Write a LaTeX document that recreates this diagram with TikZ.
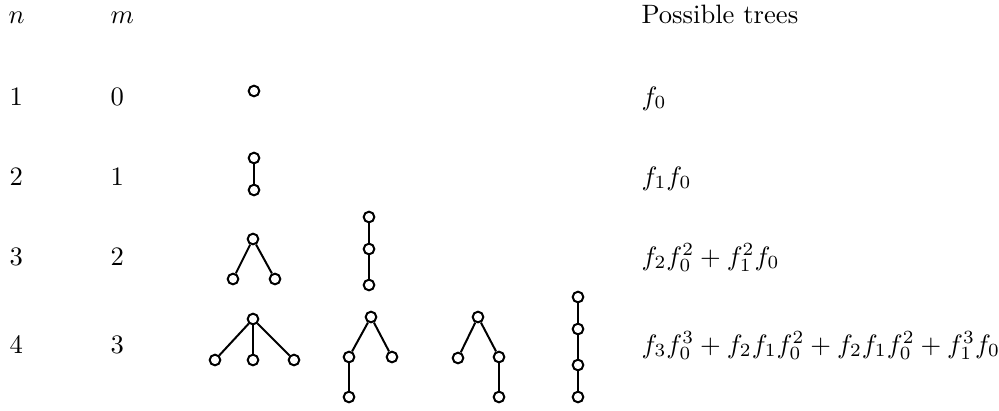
\documentclass[tikz,border=0pt]{standalone}
\usepackage{amsmath,amssymb}
\usepackage{tikz}
\usetikzlibrary{positioning}
\tikzset{
  vtx/.style={circle,draw=black,line width=0.75pt,fill=white,inner sep=0pt,minimum size=4pt},
  edge/.style={line width=0.75pt,draw=black},
  lbl/.style={anchor=base west,inner sep=0pt,font=\normalsize}
}

\begin{document}
\begin{tikzpicture}[x=0.376pt,y=-0.376pt]
\useasboundingbox (0,0) rectangle (999,410);
% header and row labels
\node[lbl] (hn) at (8,23) {$n$};
\node[lbl] (hm) at (110,23) {$m$};
\node[lbl] (ht) at (641,23) {Possible trees};
\foreach \n/\m/\yy in {1/0/105,2/1/185,3/2/265,4/3/353}{
  \node[lbl] (n\n) at (9,\yy) {$\n$};
  \node[lbl] (m\n) at (110,\yy) {$\m$};
}
\node[lbl] (f1) at (641,105) {$f_0$};
\node[lbl] (f2) at (641,185) {$f_1f_0$};
\node[lbl] (f3) at (641,265) {$f_2f_0^2+f_1^2f_0$};
\node[lbl] (f4) at (641,353) {$f_3f_0^3+f_2f_1f_0^2+f_2f_1f_0^2+f_1^3f_0$};
% n=1
\node[vtx] (a) at (254,91) {};
% n=2
\node[vtx] (b1) at (254,158) {};
\node[vtx] (b2) at (254,190) {};
\draw[edge] (b1)--(b2);
% n=3
\node[vtx] (c1) at (253,239) {};
\node[vtx] (c2) at (233,279) {};
\node[vtx] (c3) at (275,279) {};
\draw[edge] (c1)--(c2);
\draw[edge] (c1)--(c3);
\node[vtx] (d1) at (369,217) {};
\node[vtx] (d2) at (369,249) {};
\node[vtx] (d3) at (369,285) {};
\draw[edge] (d1)--(d2);
\draw[edge] (d2)--(d3);
% n=4
\node[vtx] (e1) at (253,319) {};
\node[vtx] (e2) at (215,360) {};
\node[vtx] (e3) at (253,360) {};
\node[vtx] (e4) at (294,360) {};
\draw[edge] (e1)--(e2);
\draw[edge] (e1)--(e3);
\draw[edge] (e1)--(e4);
\node[vtx] (g1) at (371,317) {};
\node[vtx] (g2) at (349,357) {};
\node[vtx] (g3) at (392,357) {};
\node[vtx] (g4) at (349,397) {};
\draw[edge] (g1)--(g2);
\draw[edge] (g1)--(g3);
\draw[edge] (g2)--(g4);
\node[vtx] (h1) at (478,317) {};
\node[vtx] (h2) at (458,358) {};
\node[vtx] (h3) at (499,357) {};
\node[vtx] (h4) at (499,397) {};
\draw[edge] (h1)--(h2);
\draw[edge] (h1)--(h3);
\draw[edge] (h3)--(h4);
\node[vtx] (k1) at (578,297) {};
\node[vtx] (k2) at (578,329) {};
\node[vtx] (k3) at (578,365) {};
\node[vtx] (k4) at (578,397) {};
\draw[edge] (k1)--(k2);
\draw[edge] (k2)--(k3);
\draw[edge] (k3)--(k4);
\end{tikzpicture}
\end{document}
